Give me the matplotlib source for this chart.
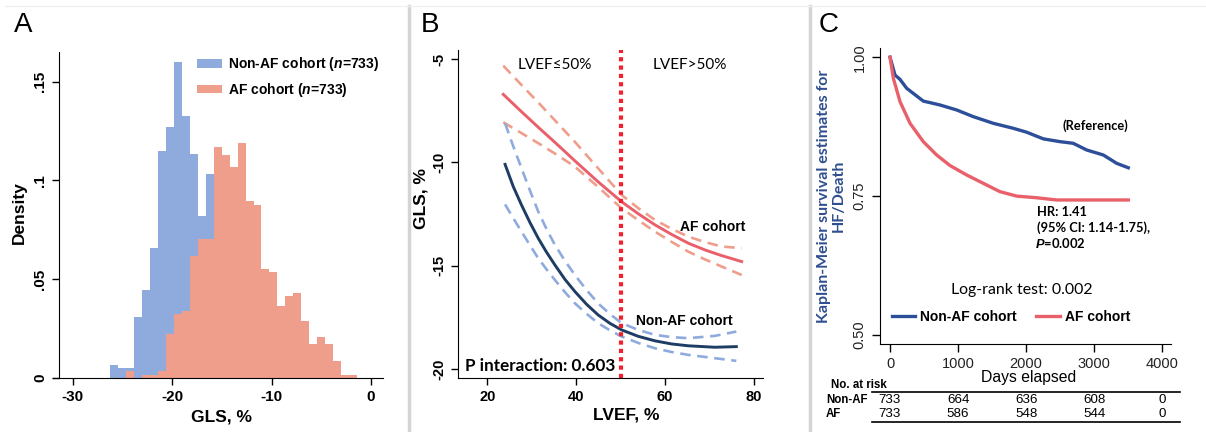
import numpy as np
import matplotlib

matplotlib.use("Agg")
import matplotlib.pyplot as plt
from matplotlib.lines import Line2D

plt.rcParams["font.family"] = ["Liberation Sans", "DejaVu Sans"]
plt.rcParams["mathtext.fontset"] = "custom"
plt.rcParams["mathtext.it"] = "Liberation Sans:italic:bold"
plt.rcParams["mathtext.rm"] = "Liberation Sans:bold"
plt.rcParams["mathtext.bf"] = "Liberation Sans:bold"

CAL = ["Lato", "DejaVu Sans"]  # stand-in for Calibri

# ---- panel A: GLS histograms (density per bin) ----
hist_start = -26.3
hist_width = 0.804
nonaf_density = [0.0067, 0.005, 0.005, 0.031, 0.0447, 0.0656, 0.115, 0.127, 0.160,
                 0.1326, 0.1134, 0.082, 0.103, 0.07, 0.05, 0.03, 0.015, 0.008, 0.004]
af_density = [0.0, 0.0, 0.0034, 0.0, 0.0013, 0.0013, 0.0034, 0.0224, 0.0325, 0.034,
              0.062, 0.0705, 0.0705, 0.117, 0.113, 0.1067, 0.1187, 0.0895, 0.0878,
              0.055, 0.0534, 0.0362, 0.0413, 0.043, 0.029, 0.0172, 0.0207, 0.0172,
              0.0088, 0.0017, 0.0017]

# ---- panel B: GLS vs LVEF fits ----
af_lvef = [23.6, 27.5, 31.5, 35.6, 39.7, 45.0, 50.2, 54.0, 57.7, 61.5, 65.2, 69.0, 72.7, 77.2]
af_fit = [-6.70, -7.50, -8.30, -9.10, -9.92, -10.95, -11.9, -12.49, -13.02, -13.49,
          -13.91, -14.24, -14.51, -14.80]
af_hi = [-5.31, -6.20, -7.10, -8.05, -9.0, -10.3, -11.57, -12.22, -12.78, -13.22,
         -13.59, -13.86, -14.07, -14.15]
af_lo = [-8.05, -8.55, -9.07, -9.62, -10.2, -11.2, -12.22, -12.8, -13.35, -13.85,
         -14.32, -14.7, -15.04, -15.45]

nonaf_lvef = [24.0, 25.85, 27.7, 29.6, 31.46, 33.34, 35.2, 37.46, 39.7, 42.33, 44.9,
              47.57, 50.2, 53.94, 57.7, 61.43, 65.2, 71.17, 76.0]
nonaf_fit = [-10.09, -11.17, -12.06, -12.91, -13.67, -14.35, -14.96, -15.66, -16.25,
             -16.87, -17.38, -17.79, -18.11, -18.42, -18.64, -18.79, -18.88, -18.95, -18.92]
nonaf_hi = [-8.10, -9.22, -10.28, -11.36, -12.38, -13.23, -13.99, -14.76, -15.45,
            -16.18, -16.82, -17.34, -17.78, -18.11, -18.35, -18.46, -18.51, -18.4, -18.19]
nonaf_lo = [-12.03, -12.70, -13.35, -14.01, -14.64, -15.18, -15.69, -16.28, -16.82,
            -17.33, -17.78, -18.13, -18.43, -18.74, -19.0, -19.18, -19.32, -19.48, -19.61]
lvef_cut = 50

# ---- panel C: Kaplan-Meier ----
km_nonaf_days = [0, 73, 147, 245, 489, 734, 979, 1223, 1517, 1811, 2007, 2252, 2496,
                 2692, 2888, 3133, 3329, 3500]
km_nonaf_surv = [1.0, 0.968, 0.960, 0.944, 0.921, 0.914, 0.905, 0.893, 0.881, 0.872,
                 0.865, 0.853, 0.848, 0.845, 0.833, 0.824, 0.809, 0.801]
km_af_days = [0, 49, 147, 294, 489, 685, 881, 1126, 1370, 1615, 1860, 2154, 2448, 3500]
km_af_surv = [1.0, 0.962, 0.920, 0.881, 0.848, 0.824, 0.805, 0.788, 0.773, 0.758,
              0.750, 0.747, 0.743, 0.743]
risk_times = [0, 1000, 2000, 3000, 4000]
risk_nonaf = [733, 664, 636, 608, 0]
risk_af = [733, 586, 548, 544, 0]

BLUE_H = "#8FABDE"
RED_H = "#EE9E8A"
RED_L = "#E9606B"
NAVY = "#1E3C64"
KM_BLUE = "#2D4E98"

fig = plt.figure(figsize=(12.06, 4.32), dpi=100)

# separators
for xf in (409 / 1206, 810 / 1206):
    fig.add_artist(Line2D([xf, xf], [0, 426 / 432], color="#D4D4D4", lw=2.5))
fig.add_artist(Line2D([5 / 1206, 1], [426 / 432, 426 / 432], color="#F0F0F0", lw=1))

for letter, xp in (("A", 14), ("B", 421), ("C", 819)):
    fig.text(xp / 1206, 1 - 31.5 / 432, letter, fontsize=20, va="baseline", ha="left")

# ---------------- A ----------------
axA = fig.add_axes([53 / 1206, 54 / 432, 330 / 1206, 326 / 432])
edges_n = hist_start + hist_width * np.arange(len(nonaf_density) + 1)
edges_a = hist_start + hist_width * np.arange(len(af_density) + 1)
axA.stairs(nonaf_density, edges_n, fill=True, color=BLUE_H, label="Non-AF cohort ($n$=733)")
axA.stairs(af_density, edges_a, fill=True, color=RED_H, label="AF cohort ($n$=733)")
axA.set_xlim(-32, 1.2)
axA.set_ylim(0, 0.165)
axA.spines["left"].set_position(("data", -31.4))
for s in ("top", "right"):
    axA.spines[s].set_visible(False)
axA.set_xticks([-30, -20, -10, 0])
axA.set_xticklabels(["-30", "-20", "-10", "0"])
axA.set_yticks([0, 0.05, 0.1, 0.15])
axA.set_yticklabels(["0", ".05", ".1", ".15"], rotation=90, va="center")
axA.tick_params(direction="out", length=5, width=1, labelsize=11)
for t in axA.get_xticklabels() + axA.get_yticklabels():
    t.set_fontweight("bold")
axA.set_xlabel("GLS, %", fontsize=12.5, fontweight="bold", va="center")
axA.xaxis.set_label_coords(0.512, -0.119)
axA.set_ylabel("Density", fontsize=12.5, fontweight="bold", va="center")
axA.yaxis.set_label_coords(-0.102, 0.507)
axA.legend(loc="upper left", bbox_to_anchor=(0.437, 0.99), frameon=False,
           prop={"weight": "bold", "size": 10}, handlelength=1.8, handleheight=0.6,
           handletextpad=0.4, labelspacing=0.55, borderpad=0, borderaxespad=0)

# ---------------- B ----------------
axB = fig.add_axes([457.7 / 1206, 54 / 432, 305.3 / 1206, 328 / 432])
dash = (0, (4, 2.5))
axB.plot(af_lvef, af_hi, color=RED_H, lw=1.9, ls=dash)
axB.plot(af_lvef, af_lo, color=RED_H, lw=1.9, ls=dash)
axB.plot(af_lvef, af_fit, color=RED_L, lw=2.1)
axB.plot(nonaf_lvef, nonaf_hi, color=BLUE_H, lw=1.9, ls=dash)
axB.plot(nonaf_lvef, nonaf_lo, color=BLUE_H, lw=1.9, ls=dash)
axB.plot(nonaf_lvef, nonaf_fit, color=NAVY, lw=2.1)
axB.axvline(lvef_cut, color="#F2202A", lw=3, ls=(0, (1, 1)))
axB.set_xlim(13.35, 82.0)
axB.set_ylim(-20.44, -4.55)
for s in ("top", "right"):
    axB.spines[s].set_visible(False)
axB.set_xticks([20, 40, 60, 80])
axB.set_yticks([-5, -10, -15, -20])
axB.set_yticklabels(["-5", "-10", "-15", "-20"], rotation=90, va="center")
axB.tick_params(direction="out", length=5, width=1, labelsize=10.5)
for t in axB.get_xticklabels() + axB.get_yticklabels():
    t.set_fontweight("bold")
axB.set_xlabel("LVEF, %", fontsize=12.5, fontweight="bold", va="center")
axB.xaxis.set_label_coords(0.551, -0.113)
axB.set_ylabel("GLS, %", fontsize=12.5, fontweight="bold", va="center")
axB.yaxis.set_label_coords(-0.121, 0.546)
axB.text(35.2, -5.28, "LVEF≤50%", family=CAL, fontsize=11, ha="center", va="center")
axB.text(65.5, -5.28, "LVEF>50%", family=CAL, fontsize=11, ha="center", va="center")
axB.text(63.3, -13.12, "AF cohort", fontsize=10, fontweight="bold", va="center")
axB.text(53.4, -17.67, "Non-AF cohort", fontsize=10, fontweight="bold", va="center")
axB.text(15.0, -19.85, "P interaction: 0.603", family=CAL, fontsize=12.3,
         fontweight="bold", va="center")

# ---------------- C ----------------
axC = fig.add_axes([880 / 1206, 88 / 432, 290.7 / 1206, 295.7 / 432])
axC.plot(km_nonaf_days, km_nonaf_surv, color=KM_BLUE, lw=2.4, label="Non-AF cohort")
axC.plot(km_af_days, km_af_surv, color=RED_L, lw=2.4, label="AF cohort")
axC.set_xlim(-147, 4123)
axC.set_ylim(0.4838, 1.016)
for s in ("top", "right"):
    axC.spines[s].set_visible(False)
axC.set_xticks(risk_times)
axC.set_yticks([0.5, 0.75, 1.0])
axC.set_yticklabels(["0.50", "0.75", "1.00"], rotation=90, va="center")
axC.tick_params(direction="out", length=6, width=1, labelsize=10.5, labelcolor="#222222")
axC.text(0.5126, -0.1116, "Days elapsed", transform=axC.transAxes, fontsize=11.3,
         ha="center", va="center")
axC.text(-0.167, 0.5, "Kaplan-Meier survival estimates for\nHF/Death", transform=axC.transAxes,
         rotation=90, ha="center", va="center", multialignment="center", linespacing=1.05,
         family=CAL, fontsize=11.5, fontweight="bold", color="#2F4E8F")
axC.text(2540, 0.876, "(Reference)", family=CAL, fontsize=9.3, fontweight="bold", va="center")
axC.text(2154, 0.722, "HR: 1.41", family=CAL, fontsize=9.3, fontweight="bold", va="center")
axC.text(2154, 0.693, "(95% CI: 1.14-1.75),", family=CAL, fontsize=9.3, fontweight="bold",
         va="center")
axC.text(2130, 0.666, "$P$=0.002", family=CAL, fontsize=9.3, fontweight="bold", va="center")
axC.text(1934, 0.581, "Log-rank test: 0.002", family=CAL, fontsize=11.4, ha="center",
         va="center")
axC.legend(loc="center", bbox_to_anchor=(0.4506, 0.0923), ncol=2, frameon=False,
           prop={"weight": "bold", "size": 10}, handlelength=1.7, handletextpad=0.35,
           columnspacing=1.4, borderpad=0, borderaxespad=0)

# risk table
xt = axC.get_xaxis_transform()
axC.text(-0.169, -0.139, "No. at risk", transform=axC.transAxes, fontsize=8.3,
         fontweight="bold", va="center")
axC.text(-0.186, -0.189, "Non-AF", transform=axC.transAxes, fontsize=8.3,
         fontweight="bold", va="center")
axC.text(-0.186, -0.237, "AF", transform=axC.transAxes, fontsize=8.3,
         fontweight="bold", va="center")
for t, a, b in zip(risk_times, risk_nonaf, risk_af):
    axC.text(t, -0.189, str(a), transform=xt, fontsize=9.6, ha="center", va="center")
    axC.text(t, -0.237, str(b), transform=xt, fontsize=9.6, ha="center", va="center")
for yl in (-0.161, -0.263):
    axC.plot([-0.028, 1.032], [yl, yl], transform=axC.transAxes, color="black", lw=1.2,
             clip_on=False)

fig.savefig("out.png", dpi=100)
